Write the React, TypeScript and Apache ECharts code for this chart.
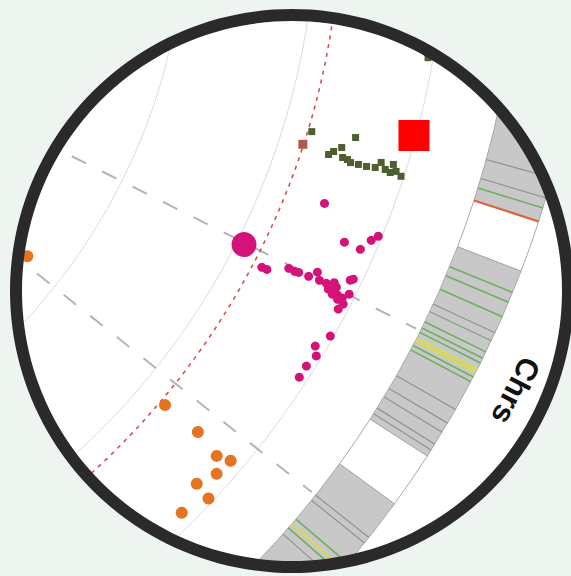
import React, { useEffect, useRef } from 'react';
import * as echarts from 'echarts';

// ---- data (radius value = -log10(p), angle = genomic position in degrees) ----
const MAGENTA_POINTS: number[][] = [
  [3.70, 27.66], [3.49, 27.62], [2.76, 26.82], [2.51, 26.82], [2.35, 26.76], [1.94, 26.69],
  [1.71, 26.16], [1.21, 26.57], [1.04, 26.87], [0.80, 26.50], [0.44, 25.67], [0.35, 25.52],
  [0.82, 27.05], [0.41, 26.98], [0.27, 27.31], [0.24, 26.54], [0.35, 27.76], [2.53, 21.51],
  [1.25, 23.49], [0.58, 23.50], [0.33, 22.66], [0.14, 22.23], [0.12, 29.59], [0.43, 30.67],
  [0.20, 31.20], [0.32, 32.12], [0.32, 33.00], [0.62, 26.95], [0.55, 27.20], [1.50, 26.60],
  [0.95, 26.30],
];
const MAGENTA_LEAD: number[][] = [[4.71, 26.74]];
const ORANGE_POINTS: number[][] = [
  [3.83, 40.24], [2.20, 40.19], [1.05, 40.61], [0.52, 40.25], [0.60, 41.53], [0.91, 42.93],
  [0.19, 43.12], [0.55, 45.05], [11.55, 37.74],
];
const GREEN_POINTS: number[][] = [
  [3.90, 16.85], [2.22, 16.35], [3.02, 18.09], [2.62, 17.32], [2.47, 17.98], [2.12, 18.15],
  [1.81, 18.10], [1.49, 18.06], [1.16, 17.94], [1.00, 17.49], [0.77, 17.86], [0.53, 17.37],
  [0.35, 17.76], [0.11, 17.97], [0.55, 17.95], [0.20, 9.88], [2.27, 18.01], [2.87, 17.77],
];
const BROWN_POINTS: number[][] = [[4.08, 17.96]];
const RED_POINTS: number[][] = [[0.08, 15.13]];
const THRESHOLD = 4.05;
const BOUNDARIES: number[] = [26.6, 38.5];
const CHROM_LABELS: string[] = ['Chrs'];
const CHROM_LABEL_ANGLES: number[] = [27.19];
// ideogram band segments: [start, end, kind]
const BAND_SEGMENTS: [number, number, string][] = [
  [0, 18.0, 'gray'], [18.0, 21.0, 'white'], [21.0, 32.8, 'gray'], [32.8, 36.1, 'white'], [36.1, 70, 'gray'],
];
// ideogram band marks: [angle, kind]
const BAND_MARKS: [number, string][] = [
  [15.4, 'dark'], [16.6, 'dark'], [17.2, 'green'], [18.0, 'red'],
  [22.3, 'green'], [22.9, 'green'], [23.8, 'green'], [24.8, 'dark'], [25.3, 'dark'],
  [26.0, 'green'], [26.4, 'green'], [26.7, 'green'], [27.1, 'yellow'], [27.3, 'yellow'], [27.6, 'green'], [27.9, 'green'],
  [29.7, 'dark'], [30.6, 'dark'], [31.2, 'dark'], [32.0, 'dark'], [32.4, 'dark'],
  [38.5, 'dark'], [38.9, 'dark'], [40.4, 'green'], [40.8, 'yellow'], [41.1, 'green'], [41.6, 'dark'],
];

// ---- styles ----
const BAND_R0 = 940;
const BAND_R1 = 1008;
const LABEL_R = 1052;
const BOUNDARY_R = 935;
const SEG_FILL: Record<string, string> = { gray: '#c8c8c8', white: '#ffffff' };
const MARK_COLOR: Record<string, string> = { dark: '#8a978a', green: '#6fae62', yellow: '#d8dc4c', red: '#e0623c' };
const MARK_WIDTH: Record<string, number> = { dark: 1.2, green: 1.6, yellow: 2.2, red: 2.2 };

function screenAngle(api: any, cs: any, angle: number) {
  const p = api.coord([0, angle]);
  return Math.atan2(p[1] - cs.cy, p[0] - cs.cx);
}

export default function App() {
  const ref = useRef<HTMLDivElement>(null);
  useEffect(() => {
    if (!ref.current) return;
    const chart = echarts.init(ref.current, undefined, { renderer: 'svg' });
    const scatter = (data: number[][], color: string, symbol: string, size: number, z: number) => ({
      type: 'scatter',
      coordinateSystem: 'polar',
      data,
      symbol,
      symbolSize: size,
      clip: false,
      z,
      itemStyle: { color, opacity: 1 },
    });
    chart.setOption({
      animation: false,
      backgroundColor: '#ffffff',
      polar: { center: [-420, -90], radius: [346, 866] },
      angleAxis: {
        type: 'value', min: 0, max: 360, startAngle: 0, clockwise: true,
        axisLine: { show: false }, axisTick: { show: false }, axisLabel: { show: false }, splitLine: { show: false },
      },
      radiusAxis: {
        type: 'value', min: 0, max: 20, interval: 5, inverse: true,
        axisLine: { show: false }, axisTick: { show: false }, axisLabel: { show: false },
        splitLine: { show: true, lineStyle: { color: '#dcdcdc', width: 1 } },
      },
      series: [
        {
          type: 'custom', coordinateSystem: 'polar', clip: false, z: 1,
          data: BAND_SEGMENTS.map((s) => [s[0], s[1]]),
          renderItem: (params: any, api: any) => {
            const cs = params.coordSys;
            const seg = BAND_SEGMENTS[params.dataIndex];
            const a0 = screenAngle(api, cs, seg[0]);
            const a1 = screenAngle(api, cs, seg[1]);
            return {
              type: 'sector',
              shape: { cx: cs.cx, cy: cs.cy, r0: BAND_R0, r: BAND_R1, startAngle: a0, endAngle: a1, clockwise: true },
              style: { fill: SEG_FILL[seg[2]], stroke: '#a8a8a8', lineWidth: 1 },
            };
          },
        },
        {
          type: 'custom', coordinateSystem: 'polar', clip: false, z: 2,
          data: BAND_MARKS.map((m) => [0, m[0]]),
          renderItem: (params: any, api: any) => {
            const cs = params.coordSys;
            const m = BAND_MARKS[params.dataIndex];
            const a = screenAngle(api, cs, m[0]);
            const c = Math.cos(a), s = Math.sin(a);
            return {
              type: 'line',
              shape: { x1: cs.cx + BAND_R0 * c, y1: cs.cy + BAND_R0 * s, x2: cs.cx + BAND_R1 * c, y2: cs.cy + BAND_R1 * s },
              style: { stroke: MARK_COLOR[m[1]], lineWidth: MARK_WIDTH[m[1]] },
            };
          },
        },
        {
          type: 'custom', coordinateSystem: 'polar', clip: false, z: 2,
          data: CHROM_LABEL_ANGLES.map((a) => [0, a]),
          renderItem: (params: any, api: any) => {
            const cs = params.coordSys;
            const a = screenAngle(api, cs, CHROM_LABEL_ANGLES[params.dataIndex]);
            return {
              type: 'text',
              x: cs.cx + LABEL_R * Math.cos(a),
              y: cs.cy + LABEL_R * Math.sin(a),
              rotation: -(a + Math.PI / 2),
              style: {
                text: CHROM_LABELS[params.dataIndex],
                fill: '#111111',
                font: 'bold 31px "Liberation Sans", Arial, sans-serif',
                align: 'center',
                verticalAlign: 'middle',
              },
            };
          },
        },
        {
          type: 'custom', coordinateSystem: 'polar', clip: false, z: 2,
          data: BOUNDARIES.map((a) => [0, a]),
          renderItem: (params: any, api: any) => {
            const cs = params.coordSys;
            const a = screenAngle(api, cs, BOUNDARIES[params.dataIndex]);
            const c = Math.cos(a), s = Math.sin(a);
            return {
              type: 'line',
              shape: { x1: cs.cx + cs.r0 * c, y1: cs.cy + cs.r0 * s, x2: cs.cx + BOUNDARY_R * c, y2: cs.cy + BOUNDARY_R * s },
              style: { stroke: '#b4b4b4', lineWidth: 2, lineDash: [16, 18] },
            };
          },
        },
        {
          type: 'custom', coordinateSystem: 'polar', clip: false, z: 3,
          data: [[THRESHOLD, 0]],
          renderItem: (params: any, api: any) => {
            const cs = params.coordSys;
            const p = api.coord([THRESHOLD, 0]);
            const r = Math.hypot(p[0] - cs.cx, p[1] - cs.cy);
            return {
              type: 'circle',
              shape: { cx: cs.cx, cy: cs.cy, r },
              style: { fill: 'none', stroke: '#d2504f', lineWidth: 1.6, lineDash: [4, 5] },
            };
          },
        },
        scatter(GREEN_POINTS, '#4d5f2e', 'rect', 7, 4),
        scatter(BROWN_POINTS, '#b35a4e', 'rect', 9, 4),
        scatter(RED_POINTS, '#ff0000', 'rect', 31, 4),
        scatter(ORANGE_POINTS, '#e5731f', 'circle', 12, 4),
        scatter(MAGENTA_POINTS, '#d4127a', 'circle', 9, 4),
        scatter(MAGENTA_LEAD, '#d4127a', 'circle', 25, 5),
      ],
      graphic: [
        { type: 'ring', z: 100, silent: true, shape: { cx: 292, cy: 291, r: 460, r0: 280 }, style: { fill: '#eef5f0' } },
        { type: 'ring', z: 101, silent: true, shape: { cx: 292, cy: 291, r: 282, r0: 270 }, style: { fill: '#2a2a2a' } },
      ],
    });
    return () => chart.dispose();
  }, []);
  return <div ref={ref} style={{ position: 'fixed', left: 0, top: 0, width: 571, height: 576 }} />;
}
